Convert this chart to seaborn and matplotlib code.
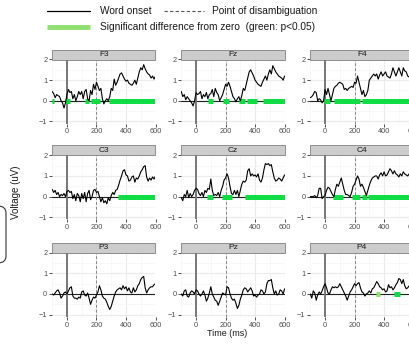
import numpy as np
import pandas as pd
import matplotlib
matplotlib.use("Agg")
import matplotlib.pyplot as plt
import seaborn as sns
from matplotlib.lines import Line2D
from matplotlib.patches import Rectangle, FancyBboxPatch

# ---- data (one value every 10 ms from -100 to 600) ----
time_ms = np.arange(-100, 601, 10)

F3 = [0.45, 0.35, 0.15, 0.3, 0.25, 0.2, 0.0, -0.1, -0.35, -0.1,
      0.3, 0.55, 0.4, 0.45, 0.1, 0.3, 0.0, 0.2, 0.45, 0.3,
      0.45, 0.1, 0.45, 0.55, 0.1, 0.0, 0.5, 0.3, 0.8, 0.55,
      0.9, 0.7, 0.5, 0.6, 0.1, -0.15, 0.0, 0.1, 0.0, 0.2,
      0.6, 0.5, 1.05, 0.75, 0.9, 1.1, 1.3, 1.35, 1.2, 1.05,
      0.95, 1.0, 0.85, 0.8, 0.75, 0.85, 1.0, 0.8, 1.1, 1.4,
      1.6, 1.5, 1.75, 1.55, 1.4, 1.3, 1.25, 1.1, 1.2, 1.05, 1.2]
FZ = [0.45, 0.2, 0.3, 0.05, 0.2, 0.1, 0.0, -0.1, -0.25, 0.0,
      0.4, 0.3, 0.35, 0.45, 0.1, 0.3, 0.2, 0.4, 0.1, 0.3,
      0.35, 0.55, 0.2, 0.6, 0.4, 0.3, 0.0, 0.15, 0.3, 0.55,
      0.8, 0.7, 0.9, 0.7, 0.45, 0.2, 0.1, -0.05, 0.1, 0.2,
      0.0, 0.25, 0.6, 0.5, 0.8, 1.1, 1.4, 1.5, 1.35, 1.2,
      1.0, 0.9, 0.8, 0.75, 0.7, 0.9, 1.05, 1.2, 1.0, 1.3,
      1.5, 1.3, 1.7, 1.55, 1.4, 1.3, 1.2, 1.15, 1.1, 1.0, 1.2]
F4 = [0.15, 0.2, 0.3, 0.45, 0.4, 0.0, 0.1, 0.05, -0.1, 0.0,
      0.55, 0.3, 0.6, 0.3, 0.0, 0.3, 0.6, 0.7, 0.75, 0.85,
      0.9, 0.85, 0.8, 0.55, 0.6, 0.5, 0.6, 0.65, 0.7, 0.65,
      0.9, 0.85, 1.2, 0.9, 0.6, 0.3, 0.5, 0.2, 0.3, 0.5,
      1.0, 1.1, 1.2, 1.3, 1.2, 1.3, 1.05, 1.25, 1.4, 1.2,
      1.3, 1.4, 1.2, 1.15, 1.1, 1.3, 1.6, 1.4, 1.2, 1.4,
      1.6, 1.4, 1.2, 1.6, 1.45, 1.4, 1.2, 1.15, 1.1, 1.2, 1.3]
C3 = [0.35, 0.2, 0.3, 0.1, 0.2, 0.0, 0.1, 0.05, 0.15, 0.0,
      0.25, 0.3, 0.2, 0.25, -0.1, 0.1, -0.2, 0.15, 0.05, -0.25,
      0.15, -0.1, 0.2, -0.25, 0.15, 0.3, -0.15, 0.0, 0.3, 0.35,
      0.2, 0.25, 0.0, -0.25, -0.05, -0.3, -0.2, -0.35, -0.05, -0.2,
      0.05, 0.2, 0.1, 0.3, 0.35, 0.55, 0.8, 1.0, 1.25, 1.3,
      1.05, 1.0, 0.75, 0.8, 0.95, 1.0, 0.7, 0.9, 0.85, 1.0,
      1.2, 1.3, 1.45, 1.5, 0.95, 0.75, 0.9, 0.8, 0.95, 0.85, 1.0]
CZ = [-0.05, -0.2, 0.1, 0.0, 0.3, -0.05, 0.15, 0.0, 0.1, 0.3,
      0.4, 0.35, 0.15, 0.05, 0.2, 0.0, 0.3, 0.2, 0.4, 0.35,
      0.85, 0.3, 0.05, 0.1, 0.05, 0.2, 0.0, 0.3, 0.5, 0.8,
      0.9, 1.1, 0.9, 0.5, 0.15, 0.1, 0.3, 0.1, 0.3, 0.0,
      0.3, 0.6, 0.75, 0.7, 0.8, 1.25, 1.35, 1.0, 1.1, 1.0,
      1.05, 0.95, 1.1, 0.8, 0.7, 0.9, 1.3, 1.6, 1.55, 1.6,
      1.5, 1.55, 1.2, 0.9, 0.75, 0.8, 0.9, 0.85, 0.75, 0.9, 1.05]
C4 = [0.0, 0.0, 0.0, 0.05, -0.05, 0.05, 0.4, 0.4, -0.1, 0.0,
      0.05, 0.3, 0.45, 0.4, 0.25, 0.1, 0.0, 0.35, 0.6, 0.5,
      0.7, 0.9, 0.6, 0.3, 0.1, 0.1, 0.05, 0.0, 0.2, 0.5,
      0.6, 0.8, 1.0, 0.85, 0.5, 0.6, 0.45, 0.25, 0.05, 0.3,
      0.55, 0.75, 0.9, 0.95, 1.0, 1.0, 0.85, 1.05, 1.15, 1.0,
      1.2, 1.0, 1.05, 1.2, 1.35, 1.25, 1.1, 1.25, 1.1, 1.05,
      0.95, 1.1, 1.0, 1.2, 1.1, 1.05, 1.0, 1.1, 1.2, 1.05, 1.1]
P3 = [0.0, -0.05, 0.05, 0.15, 0.2, 0.05, -0.2, -0.1, 0.05, 0.1,
      0.0, 0.15, 0.3, 0.35, -0.1, -0.2, -0.2, -0.25, -0.15, -0.2,
      0.1, 0.15, -0.05, -0.1, 0.05, -0.2, -0.5, -0.3, -0.15, -0.2,
      -0.05, 0.1, 0.4, 0.2, -0.1, -0.2, -0.25, -0.4, -0.6, -0.75,
      -0.6, -0.35, -0.1, 0.1, 0.2, 0.25, 0.3, 0.2, 0.4, 0.25,
      0.35, 0.15, 0.3, 0.1, 0.05, 0.3, 0.1, 0.2, 0.4, 0.5,
      0.7, 0.8, 0.85, 0.3, 0.05, 0.2, 0.3, 0.35, 0.35, 0.45, 0.5]
PZ = [0.0, -0.1, 0.15, 0.2, -0.1, -0.15, 0.05, 0.15, 0.1, 0.0,
      0.2, 0.15, 0.0, -0.1, 0.0, 0.15, -0.05, -0.35, -0.2, 0.05,
      0.35, 0.0, -0.15, -0.3, -0.35, -0.55, -0.35, -0.15, 0.05, 0.0,
      -0.05, 0.35, 0.3, 0.0, -0.2, -0.3, -0.25, -0.45, -0.7, -0.55,
      -0.25, -0.05, 0.2, 0.3, 0.25, 0.1, 0.2, 0.3, 0.15, -0.1,
      -0.05, -0.15, -0.05, 0.0, 0.2, 0.15, 0.0, 0.1, 0.5, 0.65,
      0.65, 0.7, 0.3, 0.0, 0.15, -0.05, 0.0, 0.2, 0.15, 0.0, 0.25]
P4 = [0.0, -0.2, 0.15, 0.05, -0.3, -0.05, 0.1, 0.0, 0.15, 0.35,
      0.5, 0.3, 0.05, 0.0, 0.2, 0.35, 0.3, 0.35, 0.3, 0.35,
      0.5, 0.35, 0.2, 0.05, -0.1, -0.3, -0.1, 0.1, 0.2, 0.35,
      0.5, 0.4, 0.5, 0.55, 0.3, 0.1, 0.05, -0.1, 0.0, 0.05,
      0.15, 0.05, 0.25, 0.3, 0.45, 0.6, 0.5, 0.35, 0.3, 0.2,
      0.25, 0.1, 0.15, 0.45, 0.3, 0.35, 0.2, 0.3, 0.45, 0.55,
      0.75, 0.7, 0.5, 0.7, 0.4, 0.25, 0.3, 0.4, 0.2, 0.25, 0.3]

# significant windows: (start ms, end ms, strong?)
SIG_F3 = [(-100, -90, 1), (-10, 18, 1), (124, 149, 1), (165, 226, 1), (284, 600, 1)]
SIG_FZ = [(81, 113, 1), (180, 226, 1), (289, 334, 1), (343, 415, 1), (451, 600, 1)]
SIG_F4 = [(-10, 35, 1), (62, 237, 1), (250, 600, 1)]
SIG_C3 = [(343, 600, 1)]
SIG_CZ = [(77, 113, 1), (174, 244, 1), (334, 600, 1)]
SIG_C4 = [(56, 120, 1), (180, 237, 1), (250, 287, 1), (290, 600, 1)]
SIG_P3 = []
SIG_PZ = []
SIG_P4 = [(345, 372, 0), (467, 508, 1)]

channels = ["F3", "Fz", "F4", "C3", "Cz", "C4", "P3", "Pz", "P4"]
waves = [F3, FZ, F4, C3, CZ, C4, P3, PZ, P4]
sigs = [SIG_F3, SIG_FZ, SIG_F4, SIG_C3, SIG_CZ, SIG_C4, SIG_P3, SIG_PZ, SIG_P4]

df = pd.concat([pd.DataFrame({"Time": time_ms, "Voltage": w, "Channel": ch})
                for ch, w in zip(channels, waves)], ignore_index=True)

GREEN = "#10dd44"
LIGHT_GREEN = "#8fe06f"

sns.set_theme(style="white")
plt.rcParams["font.family"] = ["Liberation Sans", "DejaVu Sans"]

W, H = 410, 351
fig = plt.figure(figsize=(W / 100, H / 100), dpi=100)

# panel layout in pixels
col_x = [52.2, 181.3, 310.3]
row_top = [59.5, 155.3, 252.7]
pw, ph = 103.3, 64.0
strip_h = 10.0

for i, ch in enumerate(channels):
    r, c = divmod(i, 3)
    ax = fig.add_axes([col_x[c] / W, 1 - (row_top[r] + ph) / H, pw / W, ph / H])
    ax.set_xlim(-100, 600)
    ax.set_ylim(-1.1, 2.0)
    ax.set_xticks([0, 200, 400, 600])
    ax.set_yticks([-1, 0, 1, 2])
    ax.set_xticks([-100, 100, 300, 500], minor=True)
    ax.set_yticks([-0.5, 0.5, 1.5], minor=True)
    ax.grid(which="major", color="#ebebeb", lw=0.8)
    ax.grid(which="minor", color="#f5f5f5", lw=0.5)
    ax.set_axisbelow(True)
    for s in ax.spines.values():
        s.set_visible(False)
    ax.tick_params(which="major", bottom=True, left=True, length=2, width=0.6,
                   color="#333333", labelsize=5.3, labelcolor="#4d4d4d", pad=1.5)
    ax.tick_params(which="minor", bottom=False, left=False)

    ax.axhline(0, color="#222222", lw=0.8, zorder=2)
    ax.axvline(0, color="#777777", lw=1.4, zorder=2)
    ax.axvline(200, color="#888888", lw=0.7, ls=(0, (3, 2)), zorder=2)

    for a, b, strong in sigs[i]:
        ax.plot([a, b], [0, 0], color=GREEN if strong else LIGHT_GREEN,
                lw=3.6, solid_capstyle="butt", zorder=3)

    sns.lineplot(data=df[df["Channel"] == ch], x="Time", y="Voltage", ax=ax,
                 color="black", lw=0.8, zorder=4)
    ax.set_xlabel("")
    ax.set_ylabel("")

    # facet strip
    ax.add_patch(Rectangle((0, 1), 1, strip_h / ph, transform=ax.transAxes,
                           facecolor="#cccccc", edgecolor="#808080", lw=0.6,
                           clip_on=False))
    ax.text(0.5, 1 + strip_h / ph / 2, ch, transform=ax.transAxes, ha="center",
            va="center", fontsize=6.0, color="#1a1a1a")

fig.text(227 / W, 1 - 334 / H, "Time (ms)", ha="center", va="center",
         fontsize=6.5, color="#1a1a1a")
fig.text(16 / W, 1 - 192 / H, "Voltage (uV)", ha="center", va="center",
         rotation=90, fontsize=7.0, color="#1a1a1a")

# legend at the top
fig.add_artist(Line2D([47 / W, 90 / W], [1 - 11 / H] * 2, color="black", lw=0.9))
fig.text(100 / W, 1 - 11 / H, "Word onset", va="center", fontsize=7.3, color="#1a1a1a")
fig.add_artist(Line2D([164 / W, 204 / W], [1 - 11 / H] * 2, color="#555555", lw=0.8,
                      ls=(0, (3, 2))))
fig.text(212 / W, 1 - 11 / H, "Point of disambiguation", va="center", fontsize=7.3,
         color="#1a1a1a")
fig.add_artist(Line2D([47 / W, 90 / W], [1 - 27 / H] * 2, color=LIGHT_GREEN, lw=3.5,
                      solid_capstyle="butt"))
fig.text(100 / W, 1 - 27 / H, "Significant difference from zero  (green: p<0.05)",
         va="center", fontsize=7.3, color="#1a1a1a")

# partial rounded box at the left edge
fig.add_artist(FancyBboxPatch((-40 / W, 1 - 263 / H), 46 / W, 57 / H,
                              boxstyle="round,pad=0,rounding_size=0.02",
                              transform=fig.transFigure, facecolor="none",
                              edgecolor="#333333", lw=0.8))

fig.savefig("out.png", dpi=100)
